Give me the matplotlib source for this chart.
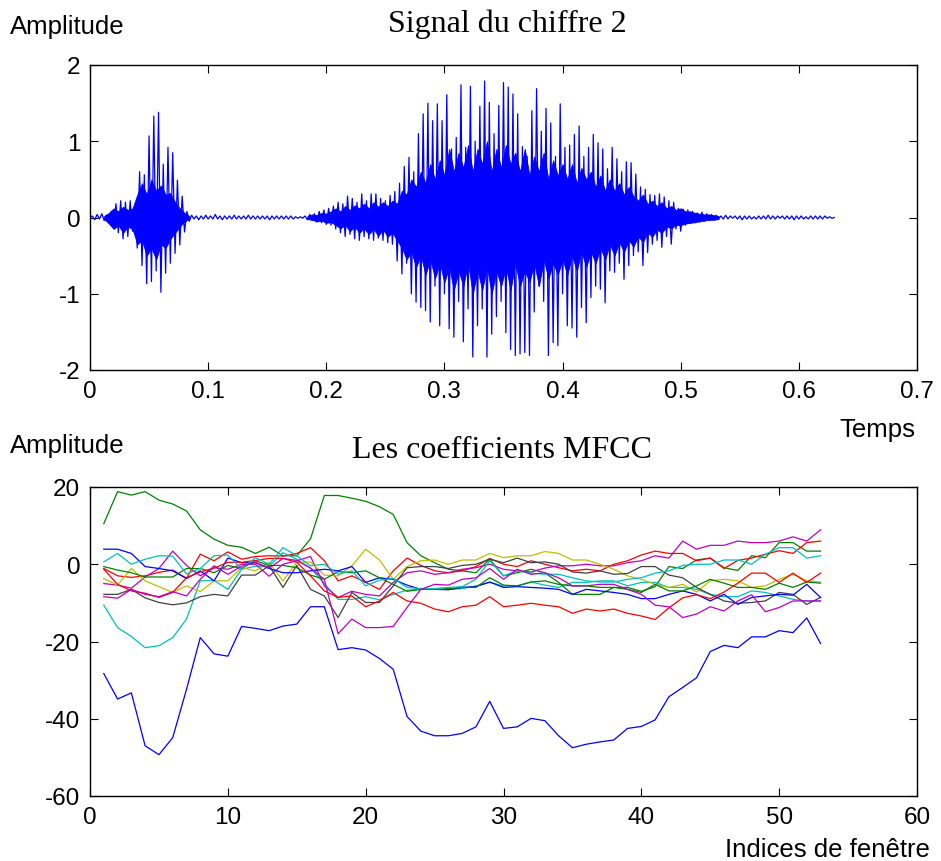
import numpy as np
import matplotlib
matplotlib.use('Agg')
import matplotlib.pyplot as plt

plt.rcParams['font.family'] = ['Liberation Sans', 'DejaVu Sans']
plt.rcParams['axes.unicode_minus'] = False

# ---- speech signal of the digit "2" (one value every 2 ms)
dt = 0.002
signal = [
    # leading noise
    0.0, 0.02, -0.03, 0.04, -0.02, 0.05, -0.04, 0.03, -0.05,
    # first burst
    0.08, -0.12, 0.18, -0.2, 0.22, -0.28, 0.2, -0.25, 0.22, -0.18, 0.1,
    -0.4, 0.6, -0.63, 0.56, -0.87, 1.07, -0.84, 1.33, -0.7, 1.38, -0.98,
    0.7, -0.73, 0.92, -0.6, 0.85, -0.47, 0.49, -0.36, 0.28, -0.19,
    # silence
    0.08, -0.05, 0.03, -0.02, 0.02, -0.03, 0.02, -0.02, 0.03, -0.02,
    0.02, -0.02, 0.04, -0.02, 0.02, -0.03, 0.02, -0.02, 0.02, -0.02,
    0.03, -0.02, 0.02, -0.02, 0.02, -0.02, 0.03, -0.02, 0.02, -0.02,
    0.02, -0.02, 0.02, -0.02, 0.02, -0.03, 0.02, -0.02, 0.02, -0.02,
    0.02, -0.02, 0.02, -0.02, 0.02, -0.02, 0.01, -0.01, 0.01, -0.01,
    0.02, -0.03, 0.04,
    # onset of the vowel
    -0.04, 0.05, -0.06, 0.08, -0.07, 0.1, -0.09, 0.12, -0.1, 0.15,
    -0.15, 0.2, -0.2, 0.18, -0.25, 0.28, -0.22, 0.25, -0.28, 0.2,
    -0.3, 0.31, -0.25, 0.22, -0.28, 0.31, -0.3, 0.31, -0.27, 0.25,
    -0.3, 0.22, -0.33, 0.29, -0.35, 0.34, -0.57, 0.45,
    # loud part
    -0.74, 0.67, -0.6, 0.79, -1.0, 0.6, -1.11, 1.10, -1.18, 1.36,
    -1.22, 1.50, -1.37, 1.27, -0.9, 1.49, -1.42, 1.27, -1.0, 1.61,
    -1.46, 0.9, -1.57, 1.05, -1.1, 1.74, -1.63, 0.92, -1.2, 1.72,
    -1.83, 1.0, -1.42, 1.46, -1.2, 1.79, -1.83, 1.51, -1.53, 1.10,
    -1.3, 1.47, -1.1, 1.77, -1.51, 1.71, -1.73, 1.62, -1.81, 1.36,
    -1.79,
    0.93, -1.77, 0.8, -1.81, 1.40, -1.24, 1.69, -0.9, 1.13, -1.1,
    1.43, -1.81, 1.24, -1.64, 0.8, -1.68, 1.49, -1.0, 0.92, -1.42,
    0.95, -1.45, 1.09, -1.57, 1.2, -1.18, 0.8, -1.38, 0.92, -1.05,
    1.09, -0.9, 0.98, -0.94, 0.9, -1.12, 0.64, -0.7, 0.92, -0.72,
    0.77, -0.6, 0.6, -0.81, 0.73, -0.63, 0.72, -0.5,
    # decay
    0.57, -0.45, 0.4, -0.63, 0.37, -0.46, 0.3, -0.35, 0.29, -0.3,
    0.31, -0.39, 0.27, -0.25, 0.22, -0.35, 0.2, -0.15, 0.12, -0.18,
    0.11, -0.1, 0.1, -0.08, 0.08, -0.07, 0.06, -0.06, 0.07, -0.05,
    0.05, -0.04, 0.04, -0.03, 0.03,
    # trailing noise
    -0.02, 0.02, -0.02, 0.03, -0.02, 0.02, -0.01, 0.02, -0.02, 0.02,
    -0.03, 0.02, -0.02, 0.02, -0.02, 0.01, -0.02, 0.02, -0.02, 0.02,
    -0.02, 0.03, -0.02, 0.02, -0.02, 0.02, -0.01, 0.02, -0.02, 0.02,
    -0.02, 0.02, -0.03, 0.02, -0.02, 0.02, -0.02, 0.01, -0.02, 0.02,
    -0.02, 0.02, -0.02, 0.02, -0.02, 0.02, -0.01, 0.01, -0.01, 0.0,
]
temps = np.arange(len(signal)) * dt

# dense (solid) part of the waveform, upper/lower edge every 4 ms
burst1_t = np.arange(0.012, 0.0845, 0.004)
burst1_hi = [0.02, 0.06, 0.12, 0.08, 0.14, 0.10, 0.12, 0.30, 0.45, 0.30,
             0.50, 0.35, 0.42, 0.30, 0.32, 0.20, 0.12, 0.06, 0.02]
burst1_lo = [-0.02, -0.08, -0.15, -0.10, -0.20, -0.12, -0.15, -0.35, -0.30, -0.50,
             -0.40, -0.55, -0.35, -0.40, -0.28, -0.20, -0.12, -0.05, -0.02]
burst2_t = np.arange(0.184, 0.5325, 0.004)
burst2_hi = [0.02, 0.04, 0.03, 0.06, 0.05, 0.08,
             0.12, 0.08, 0.15, 0.10, 0.16, 0.12, 0.18, 0.12, 0.20, 0.14, 0.20, 0.15, 0.22, 0.18,
             0.35, 0.30, 0.50, 0.40, 0.60, 0.45, 0.70, 0.50, 0.75, 0.55,
             0.90, 0.60, 0.85, 0.65, 0.95, 0.60, 0.90, 0.70, 1.00, 0.60, 0.90, 0.65, 0.95,
             0.70, 0.85, 0.60, 0.90, 0.55, 0.80, 0.60, 0.85, 0.50, 0.75, 0.55, 0.70,
             0.50, 0.70, 0.45, 0.65, 0.50, 0.60, 0.40, 0.55, 0.35, 0.50, 0.35, 0.45, 0.30, 0.40, 0.28,
             0.22, 0.30, 0.18, 0.22, 0.15, 0.20, 0.12, 0.15, 0.10, 0.12, 0.08, 0.08, 0.06,
             0.05, 0.04, 0.04, 0.03, 0.02]
burst2_lo = [-0.02, -0.03, -0.05, -0.04, -0.07, -0.06,
             -0.10, -0.14, -0.10, -0.18, -0.12, -0.20, -0.14, -0.22, -0.15, -0.24, -0.16, -0.25, -0.20, -0.30,
             -0.40, -0.55, -0.45, -0.65, -0.50, -0.75, -0.55, -0.80, -0.60, -0.85,
             -0.65, -0.95, -0.70, -0.90, -0.60, -1.00, -0.70, -0.95, -0.65, -1.00, -0.70, -0.90, -0.65,
             -0.95, -0.60, -0.90, -0.70, -0.85, -0.60, -0.90, -0.55, -0.80, -0.60, -0.75, -0.55,
             -0.75, -0.50, -0.70, -0.45, -0.65, -0.45, -0.60, -0.40, -0.55, -0.35, -0.50, -0.32, -0.45, -0.30, -0.38,
             -0.25, -0.32, -0.20, -0.25, -0.16, -0.20, -0.12, -0.14, -0.10, -0.10, -0.08, -0.07, -0.06,
             -0.05, -0.04, -0.03, -0.03, -0.02]

# ---- MFCC coefficients, 53 frames each
frames = np.arange(1, 54)
c0 = [-28.3, -34.9, -33.3, -47.0, -49.3, -44.9, -32.4, -19.0, -23.2, -23.8,
      -16.1, -16.6, -17.2, -16.0, -15.5, -11.0, -11.0, -22.1, -21.6, -22.2,
      -24.4, -27.2, -39.4, -43.2, -44.4, -44.4, -43.8, -42.1, -35.5, -42.5,
      -42.1, -39.9, -40.5, -44.4, -47.5, -46.6, -46.0, -45.5, -42.5, -42.0,
      -40.3, -34.3, -31.9, -29.4, -22.6, -21.0, -21.6, -18.8, -18.8, -17.2,
      -17.7, -13.9, -20.5]
c1 = [10.5, 18.8, 17.9, 18.8, 16.6, 15.6, 13.8, 8.9, 6.5, 4.9,
      4.4, 2.8, 4.4, 2.2, 2.2, 6.6, 17.8, 17.8, 17.1, 16.3,
      14.9, 12.9, 5.6, 2.2, 0.4, -1.3, -1.7, -2.2, 1.3, -3.0,
      -2.2, -1.3, -2.2, -4.7, -7.8, -7.8, -7.8, -6.0, -6.0, -7.0,
      -5.8, -0.6, -1.1, 1.1, 1.6, -0.9, -1.6, 2.2, 1.7, 5.6,
      5.6, 3.4, 3.4]
c2 = [-1.1, -3.0, -3.4, -3.0, -2.1, -1.5, -3.6, 2.6, 0.9, 3.2,
      1.3, 2.0, 2.2, 2.1, 2.8, 4.3, 0.9, -4.3, -3.0, -4.7,
      -6.5, -1.7, 1.6, -0.3, -1.7, -2.2, -1.7, -0.6, 1.5, 0.0,
      -0.6, 0.9, 0.0, -0.9, -1.7, -1.3, -1.7, 0.0, 0.9, 2.4,
      3.4, 2.8, 2.8, 0.9, 1.6, -1.1, 1.0, 1.6, 2.6, 3.5,
      2.8, 5.6, 6.0]
c3 = [-10.6, -16.4, -18.7, -21.6, -21.1, -19.0, -14.2, -4.3, -4.2, -6.5,
      -1.3, -0.5, -0.5, 3.0, 1.3, -1.0, -5.0, -9.1, -9.1, -8.4,
      -9.2, -7.8, -6.7, -6.5, -6.5, -6.5, -6.3, -5.6, -4.7, -5.6,
      -5.6, -4.6, -5.4, -6.0, -4.7, -4.7, -4.3, -4.3, -5.6, -4.7,
      -4.7, -6.0, -6.0, -6.5, -7.8, -8.4, -8.4, -6.9, -7.3, -8.2,
      -9.1, -9.5, -9.5]
c4 = [-5.0, -5.4, -6.2, -3.3, -1.1, 3.4, -0.3, -3.0, -0.9, -1.3,
      0.0, 0.0, -3.1, 0.0, 0.9, 2.0, -5.6, -8.6, -7.0, -7.8,
      -8.2, -4.7, -2.2, -1.7, -2.6, -2.2, -1.3, -0.9, 0.0, -1.3,
      -1.7, -2.0, -1.0, -0.4, -0.4, 0.0, -0.4, -0.4, 0.4, 0.9,
      2.2, 1.6, 6.0, 3.9, 4.9, 4.9, 6.0, 5.6, 5.6, 6.0,
      7.1, 6.0, 8.9]
c5 = [-3.7, -5.4, -1.1, -4.3, -5.8, -7.3, -5.6, -7.1, -4.3, -4.3,
      -0.9, -1.7, 0.5, -4.3, 0.5, 0.6, -2.8, -3.0, -0.4, 3.9,
      1.1, -3.9, -0.6, 0.9, 1.1, 0.0, 1.1, 1.1, 2.8, 1.7,
      2.2, 2.2, 3.3, 2.8, 1.1, 1.1, 0.0, -1.3, -3.0, -3.9,
      -5.2, -6.0, -5.2, -7.2, -4.3, -3.9, -4.3, -6.0, -5.6, -3.9,
      -2.6, -4.3, -4.6]
c6 = [-7.8, -7.8, -6.5, -8.7, -9.9, -10.5, -10.0, -8.4, -7.8, -8.2,
      -2.8, -2.8, -0.4, -6.0, -0.3, -6.5, -8.2, -13.8, -7.3, -9.9,
      -9.9, -5.6, -0.9, -0.6, -0.6, -1.1, -0.3, 0.0, 1.3, 0.4,
      1.6, 0.4, 0.6, 0.0, -2.0, -2.3, -1.7, -2.6, -2.4, -0.6,
      -0.6, -2.8, -3.5, -6.0, -7.8, -9.5, -10.1, -9.9, -9.5, -7.3,
      -7.8, -10.4, -8.6]
c7 = [3.9, 3.9, 2.8, -0.6, -1.1, -1.7, -3.7, -1.7, -4.3, 1.6,
      0.4, 0.4, -1.1, -2.2, -2.2, -1.7, -1.3, -1.7, -0.6, -4.7,
      -3.5, -3.9, -5.4, -6.5, -6.5, -6.6, -6.0, -5.8, -4.6, -6.0,
      -5.8, -6.0, -6.2, -6.5, -7.8, -6.5, -6.9, -7.3, -7.8, -8.9,
      -8.9, -7.8, -6.9, -7.8, -9.5, -7.8, -10.4, -8.6, -8.2, -7.8,
      -8.0, -5.2, -8.6]
c8 = [-0.6, -1.5, -2.2, -3.3, -3.3, -3.3, -1.1, -1.1, -2.2, -0.3,
      -1.1, 0.9, -0.3, -0.3, -0.9, -2.8, -3.9, -1.9, -2.2, -1.7,
      -3.5, -5.2, -7.0, -6.5, -6.5, -6.3, -6.0, -6.0, -3.5, -5.4,
      -5.6, -4.6, -4.3, -5.2, -5.6, -5.6, -6.0, -6.0, -6.5, -7.3,
      -5.2, -6.9, -6.9, -5.6, -3.9, -4.9, -6.0, -6.0, -6.5, -4.9,
      -6.0, -4.6, -4.9]
c9 = [-1.3, -5.2, -6.9, -7.5, -8.6, -7.3, -3.5, -2.0, -1.0, 0.5,
      0.5, 1.0, 1.5, 1.5, 0.5, -3.0, -6.9, -8.6, -8.2, -11.0,
      -9.5, -7.3, -9.5, -10.1, -11.6, -12.3, -11.0, -10.6, -8.4, -11.0,
      -10.6, -10.1, -10.6, -11.0, -12.7, -11.6, -12.1, -11.6, -12.7, -13.4,
      -14.3, -11.3, -8.7, -7.9, -8.9, -7.2, -4.9, -2.3, -2.3, -4.7,
      -2.3, -4.7, -2.3]
c10 = [0.6, 2.8, 0.0, 1.3, 2.2, 2.1, -2.5, -1.1, 2.2, 2.4,
       -1.3, 1.7, 0.0, 4.3, 2.2, -0.4, 0.0, -2.6, -1.7, -5.6,
       -4.1, -3.7, -6.0, -6.3, -6.3, -6.0, -5.8, -3.9, 0.9, -3.0,
       -1.7, -2.3, -2.6, -2.6, -3.5, -4.3, -4.6, -4.6, -3.9, -3.5,
       -2.3, -1.7, -0.3, 0.0, 0.0, 1.1, 1.1, 0.0, 2.6, 4.3,
       4.3, 1.6, 2.2]
c11 = [-8.4, -8.8, -6.5, -7.8, -8.4, -7.1, -8.2, -3.9, -0.4, -2.6,
       -0.5, 0.5, -1.0, 1.5, 1.0, -1.0, -3.9, -18.0, -14.2, -16.4,
       -16.4, -16.1, -11.2, -6.5, -5.2, -5.4, -3.9, -3.5, -1.1, -3.9,
       -1.3, -2.6, -2.2, -3.5, -5.6, -5.6, -5.2, -5.2, -6.5, -7.8,
       -10.6, -11.0, -13.8, -12.9, -11.0, -12.1, -9.5, -7.9, -12.3, -11.2,
       -9.5, -9.5, -9.5]
mfcc = [c0, c1, c2, c3, c4, c5, c6, c7, c8, c9, c10, c11]

# matlab default colour order
colors = [(0, 0, 1), (0, 0.5, 0), (1, 0, 0), (0, 0.75, 0.75),
          (0.75, 0, 0.75), (0.75, 0.75, 0), (0.25, 0.25, 0.25)]

W, H = 941, 862
fig = plt.figure(figsize=(W / 100, H / 100), dpi=100)

def px_axes(left, top, right, bottom):
    return fig.add_axes([left / W, 1 - bottom / H, (right - left) / W, (bottom - top) / H])

def style(ax):
    ax.tick_params(direction='in', length=6, width=0.8, top=True, right=True,
                   labelsize=17.5, pad=7, colors='black')
    for s in ax.spines.values():
        s.set_linewidth(1.0)

# signal
ax1 = px_axes(90, 66, 917, 371)
ax1.fill_between(burst1_t, burst1_lo, burst1_hi, color='blue', lw=0.6)
ax1.fill_between(burst2_t, burst2_lo, burst2_hi, color='blue', lw=0.6)
ax1.plot(temps, signal, color='blue', lw=0.9)
ax1.set_xlim(0, 0.7)
ax1.set_ylim(-2, 2)
ax1.set_xticks(np.arange(0, 0.71, 0.1))
ax1.set_xticklabels(['0', '0.1', '0.2', '0.3', '0.4', '0.5', '0.6', '0.7'])
ax1.set_yticks([-2, -1, 0, 1, 2])
style(ax1)

# MFCC
ax2 = px_axes(90, 488, 917, 797)
for k, c in enumerate(mfcc):
    ax2.plot(frames, c, color=colors[k % 7], lw=0.9)
ax2.set_xlim(0, 60)
ax2.set_ylim(-60, 20)
ax2.set_xticks(np.arange(0, 61, 10))
ax2.set_yticks(np.arange(-60, 21, 20))
style(ax2)

def ftext(x, y, s, **kw):
    fig.text(x / W, 1 - y / H, s, **kw)

serif = ['Liberation Serif', 'DejaVu Serif']
ftext(10, 27, 'Amplitude', ha='left', va='center', fontsize=18.5)
ftext(507, 24, 'Signal du chiffre 2', ha='center', va='center', fontsize=23, family=serif)
ftext(915, 430, 'Temps', ha='right', va='center', fontsize=18.5)
ftext(10, 446, 'Amplitude', ha='left', va='center', fontsize=18.5)
ftext(502, 450, 'Les coefficients MFCC', ha='center', va='center', fontsize=23, family=serif)
ftext(930, 850, 'Indices de fenêtre', ha='right', va='center', fontsize=18.5)

fig.savefig('out.png', dpi=100)
